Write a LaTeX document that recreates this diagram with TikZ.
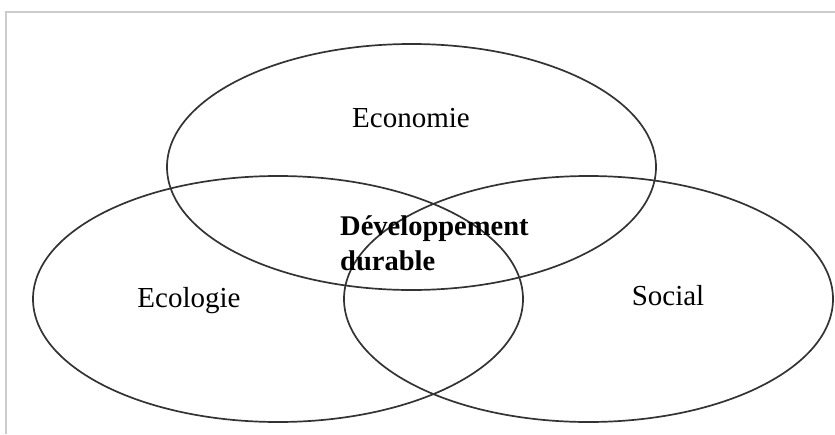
\documentclass[tikz,border=0pt]{standalone}
\usepackage{fontspec}
\setmainfont{Liberation Serif}
\begin{document}
\begin{tikzpicture}[x=1pt,y=-1pt,
  set/.style={draw=black!80, line width=1.7pt},
  lbl/.style={font=\fontsize{29}{32}\selectfont, inner sep=0pt, anchor=base},
  frame/.style={draw=black!20, line width=1.6pt}]
\useasboundingbox (0,0) rectangle (835,434);
\draw[frame] (6,434) -- (6,12) -- (835,12);
\draw[set] (411.5,167) ellipse [x radius=244.5, y radius=123];
\draw[set] (278,299) ellipse [x radius=245, y radius=123];
\draw[set] (588.5,299) ellipse [x radius=244.5, y radius=123];
\node[lbl] (eco) at (411,127) {Economie};
\node[lbl] (ecol) at (189,307) {Ecologie};
\node[lbl] (soc) at (668,305) {Social};
\node[lbl, font=\fontsize{28.5}{35}\selectfont\bfseries, align=left, anchor=base west] (dd) at (340,270) {Développement\\durable};
\end{tikzpicture}
\end{document}
